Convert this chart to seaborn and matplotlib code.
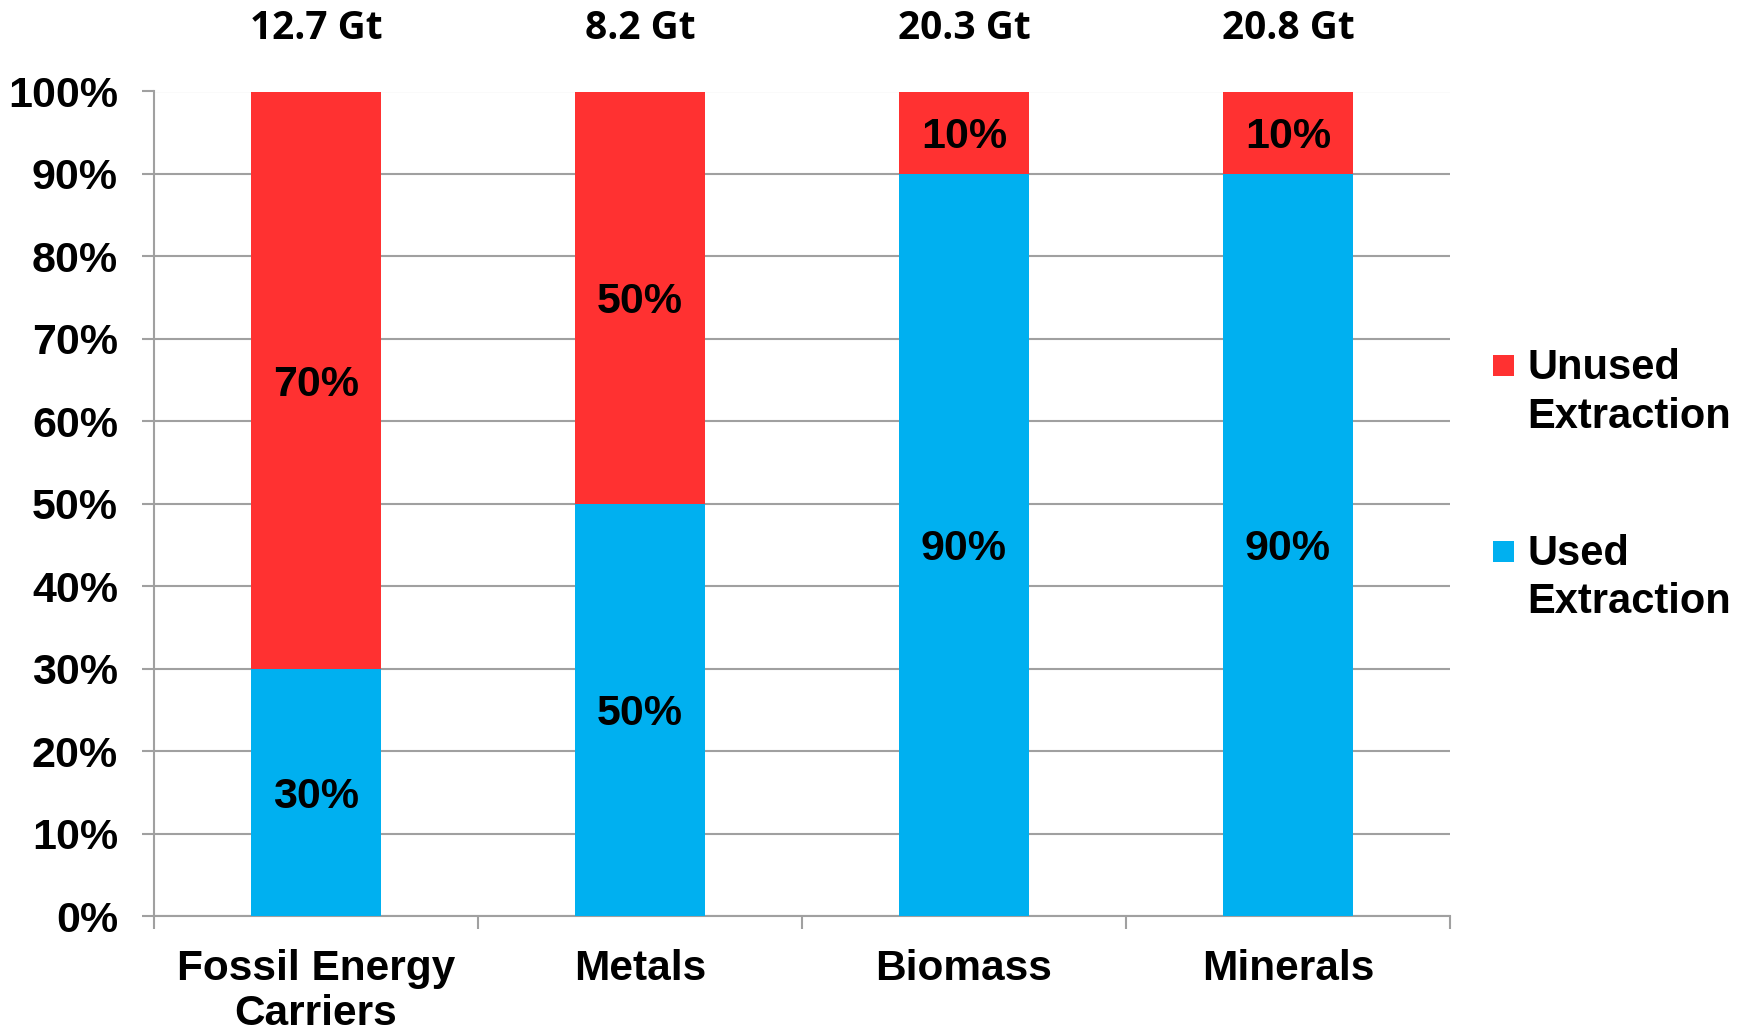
import matplotlib
matplotlib.use("Agg")
import matplotlib.pyplot as plt
import seaborn as sns
import pandas as pd
import numpy as np
from matplotlib.patches import Patch, Rectangle
from matplotlib.legend_handler import HandlerPatch
from matplotlib.ticker import FixedLocator

categories = ["Fossil Energy\nCarriers", "Metals", "Biomass", "Minerals"]
used = [30, 50, 90, 90]
unused = [70, 50, 10, 10]
totals = ["12.7 Gt", "8.2 Gt", "20.3 Gt", "20.8 Gt"]
y_ticks = [0, 10, 20, 30, 40, 50, 60, 70, 80, 90, 100]
series_names = ["Unused\nExtraction", "Used\nExtraction"]

RED = "#FF3131"
BLUE = "#00B0F0"
GRID = "#A0A0A0"

sns.set_theme(style="white")
plt.rcParams["font.family"] = ["Liberation Sans", "DejaVu Sans"]
plt.rcParams["text.color"] = "black"
plt.rcParams["axes.labelcolor"] = "black"

df = pd.DataFrame({
    "category": categories,
    "used": used,
    "unused": unused,
})
df["total"] = df["used"] + df["unused"]

fig = plt.figure(figsize=(17.5, 10.34), dpi=100)
ax = fig.add_axes([154 / 1750, 1 - 916 / 1034, (1450 - 154) / 1750, (916 - 91.5) / 1034])

sns.barplot(data=df, x="category", y="total", color=RED, width=0.4,
            saturation=1, ax=ax, zorder=3, linewidth=0)
sns.barplot(data=df, x="category", y="used", color=BLUE, width=0.4,
            saturation=1, ax=ax, zorder=3, linewidth=0)

ax.set_xlim(-0.5, len(categories) - 0.5)
ax.set_ylim(0, 100)
ax.set_xlabel("")
ax.set_ylabel("")

ax.set_yticks(y_ticks)
ax.set_yticklabels([f"{v}%" for v in y_ticks], fontsize=31, fontweight="bold")
ax.yaxis.grid(True, color=GRID, linewidth=1.5, zorder=0)
ax.set_axisbelow(True)

ax.tick_params(axis="y", which="major", length=9, width=1.5, color=GRID,
               labelcolor="black", pad=17, left=True)
ax.set_xticks(range(len(categories)))
ax.set_xticklabels(categories, fontsize=30.5, fontweight="bold",
                   linespacing=1.15)
ax.tick_params(axis="x", which="major", length=0, pad=24, labelcolor="black")
ax.xaxis.set_minor_locator(FixedLocator(np.arange(-0.5, len(categories), 1.0)))
ax.tick_params(axis="x", which="minor", length=9, width=1.5, color=GRID,
               bottom=True, direction="out")

for s in ["top", "right"]:
    ax.spines[s].set_visible(False)
for s in ["left", "bottom"]:
    ax.spines[s].set_color(GRID)
    ax.spines[s].set_linewidth(1.5)

# segment labels
for i, (u, n) in enumerate(zip(used, unused)):
    ax.text(i, u / 2, f"{u}%", ha="center", va="center_baseline", fontsize=31,
            fontweight="bold", color="black", zorder=5)
    ax.text(i, u + n / 2, f"{n}%", ha="center", va="center_baseline", fontsize=31,
            fontweight="bold", color="black", zorder=5)

# totals on top
for i, t in enumerate(totals):
    ax.annotate(t, xy=(i, 100), xycoords="data", xytext=(0, 45),
                textcoords="offset points", ha="center", va="center",
                fontsize=28, fontweight="bold", family=["Open Sans", "DejaVu Sans"],
                color="black", annotation_clip=False)

LEG_FS = 30


class TopSquareHandler(HandlerPatch):
    def create_artists(self, legend, orig_handle, xdescent, ydescent,
                       width, height, fontsize, trans):
        size = 0.5 * fontsize
        y0 = 0.77 * fontsize
        r = Rectangle((-xdescent, y0), size, size,
                      facecolor=orig_handle.get_facecolor(), edgecolor="none",
                      transform=trans)
        return [r]


handles = [Patch(facecolor=RED, edgecolor="none"),
           Patch(facecolor=BLUE, edgecolor="none")]
leg = fig.legend(handles, series_names, loc="upper left",
                 bbox_to_anchor=(1493 / 1750, 1 - 348 / 1034),
                 frameon=False, prop={"size": LEG_FS, "weight": "bold"},
                 handlelength=0.5, handleheight=0.7, handletextpad=0.32,
                 labelspacing=2.33, borderpad=0, borderaxespad=0,
                 handler_map={Patch: TopSquareHandler()})
for t in leg.get_texts():
    t.set_linespacing(1.28)
    t.set_color("black")

fig.savefig("out.png", dpi=100)
